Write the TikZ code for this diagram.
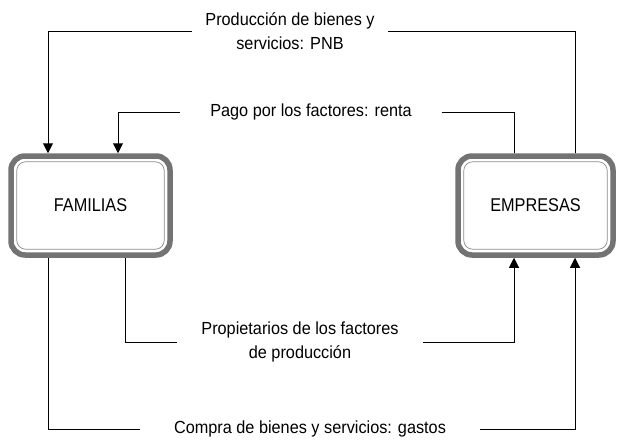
\documentclass[tikz,border=0pt]{standalone}
\usepackage{fontspec}
\setmainfont{Liberation Sans}
\newfontfamily\sectorfont{Liberation Sans}[FakeStretch=0.88]
\newfontfamily\labelfont{Liberation Sans}[FakeStretch=0.93]
\usetikzlibrary{arrows.meta}
\tikzset{
  sector/.style={
    rectangle, rounded corners=14pt, minimum width=159pt, minimum height=99pt,
    draw=black!55, line width=5.5pt, fill=white,
    font=\sectorfont\fontsize{18.5}{20}\selectfont
  },
  flowlabel/.style={
    inner xsep=0pt, inner ysep=2pt, align=center,
    font=\labelfont\fontsize{17.5}{23.5}\selectfont
  },
  flow/.style={
    line width=1pt, draw=black
  },
  flowarrow/.style={
    flow, -{Triangle[width=10pt,length=10pt]}
  }
}

\begin{document}
\begin{tikzpicture}[x=1pt, y=-1pt]
  \useasboundingbox (0,0) rectangle (618,439);

  % Sectors
  \node[sector] (fam) at (90.5,205.5) {FAMILIAS};
  \node[sector, minimum width=155pt] (emp) at (535.5,205.5) {EMPRESAS};
  \foreach \n in {fam,emp}
    \draw[black!45, line width=0.7pt, rounded corners=9pt]
      ([shift={(8.5pt,-8.5pt)}]\n.north west) rectangle ([shift={(-8.5pt,8.5pt)}]\n.south east);

  % Labels
  \node[flowlabel, minimum width=196pt] (pnb) at (290,31)
    {Producción de bienes y\\servicios: PNB};
  \node[flowlabel, minimum width=262pt] (renta) at (311,112)
    {Pago por los factores: renta};
  \node[flowlabel, minimum width=246pt] (prop) at (300,342)
    {Propietarios de los factores\\de producción};
  \node[flowlabel, minimum width=340pt] (gastos) at (310,429)
    {Compra de bienes y servicios: gastos};

  % Upper flows
  \draw[flow] ([xshift=39.5pt]emp.north) |- (pnb.east);
  \draw[flowarrow] (pnb.west) -| ([xshift=-42.5pt]fam.north);

  \draw[flow] ([xshift=-21.5pt]emp.north) |- (renta.east);
  \draw[flowarrow] (renta.west) -| ([xshift=27.5pt]fam.north);

  % Lower flows
  \draw[flow] ([xshift=34.5pt]fam.south) |- (prop.west);
  \draw[flowarrow] (prop.east) -| ([xshift=-21.5pt]emp.south);

  \draw[flow] ([xshift=-42.5pt]fam.south) |- (gastos.west);
  \draw[flowarrow] (gastos.east) -| ([xshift=39.5pt]emp.south);
\end{tikzpicture}
\end{document}
